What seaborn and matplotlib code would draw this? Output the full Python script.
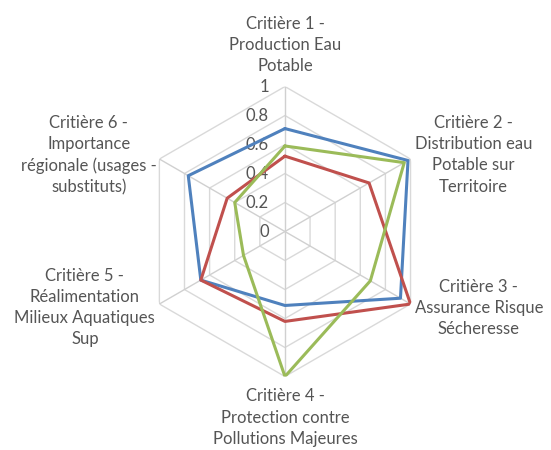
import matplotlib.pyplot as plt
import numpy as np
import pandas as pd
import seaborn as sns

criteres = [
    "Critière 1 -\nProduction Eau\nPotable",
    "Critière 2 -\nDistribution eau\nPotable sur\nTerritoire",
    "Critière 3 -\nAssurance Risque\nSécheresse",
    "Critière 4 -\nProtection contre\nPollutions Majeures",
    "Critière 5 -\nRéalimentation\nMilieux Aquatiques\nSup",
    "Critière 6 -\nImportance\nrégionale (usages -\nsubstituts)",
]
serie_1 = [0.71, 0.98, 0.92, 0.51, 0.67, 0.77]
serie_2 = [0.52, 0.67, 1.00, 0.62, 0.67, 0.46]
serie_3 = [0.59, 0.95, 0.68, 1.00, 0.33, 0.40]
niveaux = [0, 0.2, 0.4, 0.6, 0.8, 1]
niveaux_txt = ["0", "0.2", "0.4", "0.6", "0.8", "1"]

couleurs = {"Série 1": "#4F81BD", "Série 2": "#C0504D", "Série 3": "#9BBB59"}
gris = "#555555"

sns.set_theme(style="white")
plt.rcParams["font.family"] = ["Lato", "DejaVu Sans"]

angles = np.linspace(0, 2 * np.pi, len(criteres), endpoint=False)
angles_fermes = np.append(angles, 2 * np.pi)

rows = []
for nom, vals in zip(couleurs, [serie_1, serie_2, serie_3]):
    for a, v in zip(angles_fermes, vals + vals[:1]):
        rows.append({"theta": a, "valeur": v, "serie": nom})
df = pd.DataFrame(rows)

fig = plt.figure(figsize=(5.51, 4.5), dpi=100)
ax = fig.add_axes([0.2540, 0.1633, 0.5263, 0.6444], projection="polar")
ax.set_theta_offset(np.pi / 2)
ax.set_theta_direction(-1)
ax.set_ylim(0, 1)
ax.set_axis_off()

# grille hexagonale
for lvl in niveaux[1:]:
    ax.plot(angles_fermes, [lvl] * len(angles_fermes), color="#D9D9D9", lw=1, zorder=1)
for a in angles:
    ax.plot([a, a], [0, 1], color="#D0D0D0", lw=1, zorder=1)

sns.lineplot(
    data=df,
    x="theta",
    y="valeur",
    hue="serie",
    palette=couleurs,
    sort=False,
    estimator=None,
    lw=2.2,
    legend=False,
    ax=ax,
    zorder=3,
)

for lvl, txt in zip(niveaux, niveaux_txt):
    ax.annotate(txt, xy=(0, lvl), xytext=(-11.5, 0), textcoords="offset points",
                ha="right", va="center", fontsize=12, color=gris, zorder=2)

positions = [
    dict(xytext=(0, 9), ha="center", va="bottom"),
    dict(xytext=(3, 3), ha="left", va="center"),
    dict(xytext=(3, -3), ha="left", va="center"),
    dict(xytext=(0, -8.5), ha="center", va="top"),
    dict(xytext=(-3, -2.5), ha="right", va="center"),
    dict(xytext=(-2, 2.5), ha="right", va="center"),
]
for a, lab, pos in zip(angles, criteres, positions):
    ax.annotate(lab, xy=(a, 1), textcoords="offset points", multialignment="center",
                fontsize=12, color=gris, linespacing=1.4, annotation_clip=False, **pos)

fig.savefig("out.png", dpi=100)
